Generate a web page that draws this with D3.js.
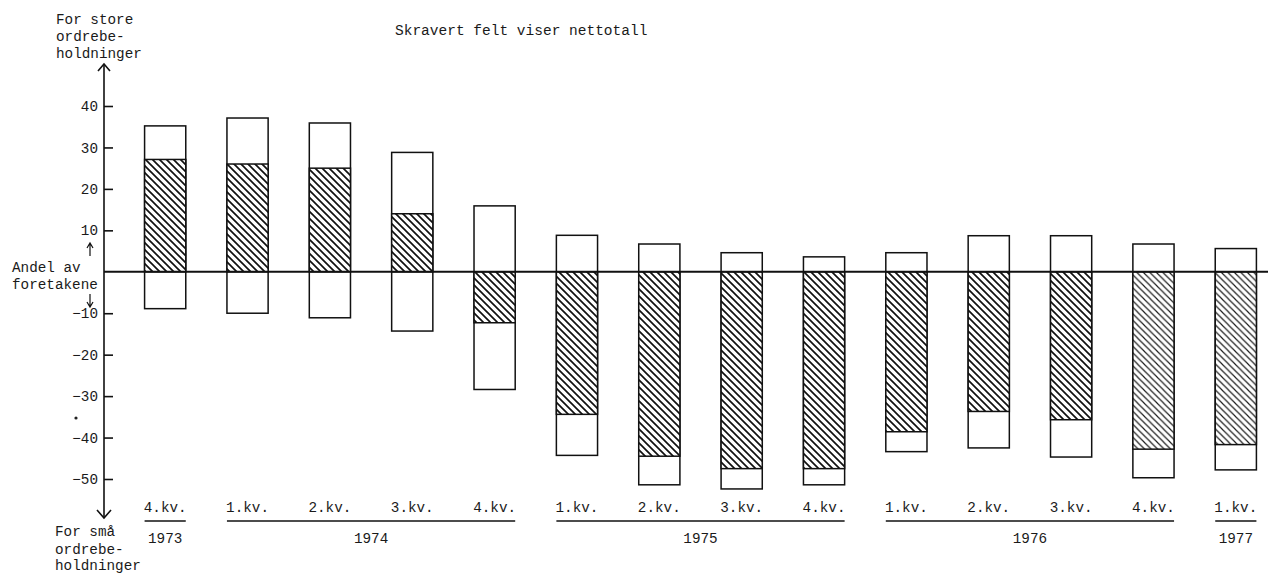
<!DOCTYPE html>
<html>
<head>
<meta charset="utf-8">
<script src="https://cdn.jsdelivr.net/npm/d3@7"></script>
<style>
  html, body { margin: 0; padding: 0; background: #fff; }
  svg { display: block; }
  text { font-family: "Liberation Mono", "DejaVu Sans Mono", monospace; fill: #1a1a1a; }
</style>
</head>
<body>
<svg id="chart" width="1268" height="575"></svg>
<script>
// ---- data ----
const quarters   = ["4.kv.","1.kv.","2.kv.","3.kv.","4.kv.","1.kv.","2.kv.","3.kv.","4.kv.","1.kv.","2.kv.","3.kv.","4.kv.","1.kv."];
const storeShare = [35.2, 37.1, 35.9, 28.8, 15.9, 8.8, 6.7, 4.6, 3.6, 4.6, 8.7, 8.7, 6.7, 5.6];
const smaShare   = [-8.9, -10.0, -11.1, -14.3, -28.4, -44.3, -51.4, -52.4, -51.4, -43.4, -42.5, -44.7, -49.7, -47.8];
const netto      = [27.1, 26.0, 25.0, 14.0, -12.3, -34.4, -44.5, -47.5, -47.5, -38.6, -33.7, -35.7, -42.8, -41.7];
const yearLabels = ["1973", "1974", "1975", "1976", "1977"];
const yearFirst  = [0, 1, 5, 9, 13];
const yearLast   = [0, 4, 8, 12, 13];
const yTicks     = [40, 30, 20, 10, -10, -20, -30, -40, -50];

const svg = d3.select("#chart");

const x = d3.scaleBand().domain(d3.range(quarters.length)).range([124, 1277]).paddingInner(0.5).paddingOuter(0.25);
const y = d3.scaleLinear().domain([-50, 40]).range([479, 106]);

// hatch patterns
const defs = svg.append("defs");
function hatch(id, spacing, width, color) {
  const p = defs.append("pattern").attr("id", id).attr("patternUnits", "userSpaceOnUse")
    .attr("width", spacing).attr("height", spacing);
  p.append("rect").attr("width", spacing).attr("height", spacing).attr("fill", "#fff");
  p.append("path").attr("d", `M0,0 L${spacing},${spacing} M${-spacing},0 L${spacing},${2*spacing} M0,${-spacing} L${2*spacing},${spacing}`)
    .attr("stroke", color).attr("stroke-width", width);
}
hatch("hatchBold", 7, 1.7, "#111");
hatch("hatchThin", 6.5, 1.15, "#1a1a1a");

// title
svg.append("text").attr("x", 395).attr("y", 35).attr("font-size", 14.5).text("Skravert felt viser nettotall");

// left labels
[["For store", 24], ["ordrebe-", 41], ["holdninger", 58]].forEach(([t, yy]) =>
  svg.append("text").attr("x", 56).attr("y", yy).attr("font-size", 14.3).text(t));
[["For små", 536], ["ordrebe-", 554], ["holdninger", 570]].forEach(([t, yy]) =>
  svg.append("text").attr("x", 55).attr("y", yy).attr("font-size", 14.3).text(t));
svg.append("text").attr("x", 12).attr("y", 272).attr("font-size", 14.3).text("Andel av");
svg.append("text").attr("x", 12).attr("y", 289).attr("font-size", 14.3).text("foretakene");
// small arrows near label
svg.append("path").attr("d", "M90,256 L90,244 M87,248 L90,243 L93,248").attr("fill", "none").attr("stroke", "#111").attr("stroke-width", 1.2);
svg.append("path").attr("d", "M90,294 L90,306 M87,302 L90,307 L93,302").attr("fill", "none").attr("stroke", "#111").attr("stroke-width", 1.2);
svg.append("circle").attr("cx", 76).attr("cy", 418).attr("r", 1.6).attr("fill", "#222");

// y axis
const axisG = svg.append("g").attr("transform", "translate(104,0)")
  .call(d3.axisLeft(y).tickValues(yTicks).tickSizeInner(-9).tickSizeOuter(0).tickPadding(6).tickFormat(d3.format("d")));
axisG.select(".domain").remove();
axisG.selectAll(".tick line").attr("stroke", "#111").attr("stroke-width", 1.6);
axisG.selectAll(".tick text").attr("font-size", 14.3).attr("font-family", "Liberation Mono, monospace").attr("fill", "#1a1a1a");

svg.append("line").attr("x1", 104).attr("x2", 104).attr("y1", 64).attr("y2", 518).attr("stroke", "#111").attr("stroke-width", 1.6);
svg.append("path").attr("d", "M98,71 L104,64 L110,71").attr("fill", "none").attr("stroke", "#111").attr("stroke-width", 1.6);
svg.append("path").attr("d", "M97,510 L104,518 L111,510").attr("fill", "none").attr("stroke", "#111").attr("stroke-width", 1.6);

// bars
const bars = svg.append("g");
quarters.forEach((q, i) => {
  const bx = x(i), bw = x.bandwidth();
  bars.append("rect").attr("x", bx).attr("width", bw)
    .attr("y", y(storeShare[i])).attr("height", y(smaShare[i]) - y(storeShare[i]))
    .attr("fill", "#fff").attr("stroke", "#111").attr("stroke-width", 1.5);
  const y0 = y(0), y1 = y(netto[i]);
  bars.append("rect").attr("x", bx).attr("width", bw)
    .attr("y", Math.min(y0, y1)).attr("height", Math.abs(y1 - y0))
    .attr("fill", i >= 12 ? "url(#hatchThin)" : "url(#hatchBold)")
    .attr("stroke", "#111").attr("stroke-width", 1.5);
});

// zero line
svg.append("line").attr("x1", 104).attr("x2", 1268).attr("y1", y(0)).attr("y2", y(0)).attr("stroke", "#111").attr("stroke-width", 2);

// quarter labels
quarters.forEach((q, i) => {
  svg.append("text").attr("x", x(i) + x.bandwidth() / 2).attr("y", 512)
    .attr("text-anchor", "middle").attr("font-size", 14.3).text(q);
});

// year underlines & labels
yearLabels.forEach((yr, k) => {
  const xa = x(yearFirst[k]), xb = x(yearLast[k]) + x.bandwidth();
  svg.append("line").attr("x1", xa).attr("x2", xb).attr("y1", 521).attr("y2", 521).attr("stroke", "#111").attr("stroke-width", 1.6);
  svg.append("text").attr("x", (xa + xb) / 2).attr("y", 543).attr("text-anchor", "middle").attr("font-size", 14.3).text(yr);
});
</script>
</body>
</html>
